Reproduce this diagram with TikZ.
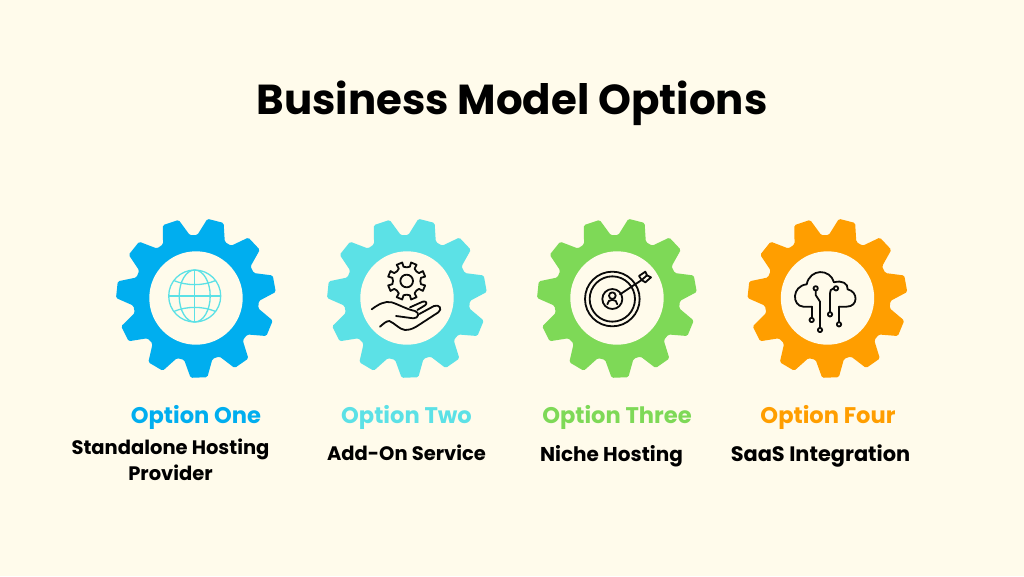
\documentclass[tikz,border=0pt]{standalone}
\usepackage{fontspec}
\setmainfont{Poppins}
\definecolor{bg}{HTML}{FFFBEB}
\definecolor{cblue}{HTML}{00AEEF}
\definecolor{ccyan}{HTML}{5CE1E6}
\definecolor{cgreen}{HTML}{7ED957}
\definecolor{corange}{HTML}{FF9E00}
\definecolor{ink}{HTML}{0A0A0A}
\tikzset{
  titletext/.style={font=\bfseries\fontsize{41.9}{48}\selectfont,text=black,anchor=base,inner sep=0pt},
  optiontext/.style={font=\bfseries\fontsize{22.6}{26}\selectfont,anchor=base,inner sep=0pt},
  desctext/.style={font=\bfseries\fontsize{19.5}{26}\selectfont,text=black,anchor=base,inner sep=0pt,align=center},
  widetext/.style={desctext,font=\bfseries\fontsize{#1}{26}\selectfont},
  iconline/.style={draw=ink,line width=1.8pt,line cap=round,line join=round},
  globeline/.style={draw=ccyan,line width=1.3pt},
}
\newcommand{\biggear}[3]{%
  \fill[#1,rounded corners=1.5pt] ([shift={(#2,#3)}]-62.8:63)
    \foreach \i in {0,...,10} {
      \pgfextra{\pgfmathsetmacro{\c}{-75.8-\i*32.727}}
      -- ([shift={(#2,#3)}]\c+13:63) -- ([shift={(#2,#3)}]\c+6:80) -- ([shift={(#2,#3)}]\c-6:80) -- ([shift={(#2,#3)}]\c-13:63)
    } -- cycle;
  \fill[bg] (#2,#3) circle[radius=46.7];
}
\begin{document}
\begin{tikzpicture}[x=1pt,y=-1pt]
\path[use as bounding box,fill=bg] (0,0) rectangle (1024,576);
\node[titletext] (title) at (512,114) {Business Model Options};

\biggear{cblue}{196}{298}
\biggear{ccyan}{407}{298}
\biggear{cgreen}{617}{298}
\biggear{corange}{827.5}{298}

% globe
\begin{scope}[shift={(194.7,296)}]
  \draw[globeline] (0,0) circle[radius=26];
  \draw[globeline] (0,0) ellipse[x radius=15.5,y radius=26];
  \draw[globeline] (0,-26) -- (0,26) (-26,0) -- (26,0);
  \draw[globeline] (-21,-15.5) .. controls (-8,-10) and (8,-10) .. (21,-15.5);
  \draw[globeline] (-21,15.5) .. controls (-8,10) and (8,10) .. (21,15.5);
\end{scope}

% hand and gear
\begin{scope}[shift={(360,250)},x=0.3333pt,y=-0.3333pt]
  \draw[iconline] (140,93) circle[radius=19];
  \draw[iconline] ([shift={(140,93)}]0.5:41)
    \foreach \i in {0,...,7} {
      \pgfextra{\pgfmathsetmacro{\c}{22.5+\i*45}}
      -- ([shift={(140,93)}]\c-22:41) -- ([shift={(140,93)}]\c-10:44) -- ([shift={(140,93)}]\c-9:57) -- ([shift={(140,93)}]\c+9:57) -- ([shift={(140,93)}]\c+10:44)
    } -- cycle;
  \draw[iconline] (35,178) .. controls (55,163) and (75,152) .. (95,157)
    .. controls (115,163) and (140,178) .. (165,183)
    .. controls (180,188) and (176,205) .. (160,205)
    -- (108,198);
  \draw[iconline] (150,172) -- (188,155) .. controls (198,152) and (204,160) .. (195,166) -- (172,180);
  \draw[iconline] (60,230) .. controls (70,222) and (78,213) .. (88,213)
    .. controls (105,220) and (118,238) .. (135,240)
    .. controls (155,240) and (165,232) .. (175,226)
    -- (235,187) .. controls (248,177) and (238,162) .. (222,168) -- (178,192);
\end{scope}

% target
\begin{scope}[shift={(570,250)},x=0.3333pt,y=-0.3333pt]
  \draw[iconline] (127,147) circle[radius=82];
  \draw[iconline] (127,147) circle[radius=68];
  \draw[iconline] (127,147) circle[radius=30];
  \draw[iconline] (127,137) circle[radius=10];
  \draw[iconline] (112,163) .. controls (112,145) and (142,145) .. (142,163);
  \draw[iconline] (150,133) -- (215,90);
  \draw[iconline] (215,90) -- (207,78) -- (226,65) -- (231,76) -- (243,82) -- (226,97) -- cycle;
  \draw[iconline] (215,90) -- (231,76);
\end{scope}

% cloud
\begin{scope}[shift={(780,250)},x=0.3333pt,y=-0.3333pt]
  \draw[iconline] (95,170) -- (70,170) .. controls (35,168) and (35,108) .. (80,103)
    .. controls (90,55) and (150,55) .. (162,97)
    .. controls (185,90) and (205,100) .. (203,118)
    .. controls (235,125) and (235,170) .. (200,170) -- (178,170);
  \draw[iconline] (95,170) -- (95,204);
  \draw[iconline] (95,210) circle[radius=6.5];
  \draw[iconline] (107,115) circle[radius=6.5];
  \draw[iconline] (107,122) -- (107,135) -- (120,155) -- (120,233);
  \draw[iconline] (120,240) circle[radius=6.5];
  \draw[iconline] (168,115) circle[radius=6.5];
  \draw[iconline] (161,115) .. controls (152,117) and (150,122) .. (150,130) -- (150,186);
  \draw[iconline] (150,193) circle[radius=6.5];
  \draw[iconline] (177,170) -- (177,216);
  \draw[iconline] (177,223) circle[radius=6.5];
\end{scope}

\node[optiontext,text=cblue] (o1) at (196,423) {Option One};
\node[optiontext,text=ccyan] (o2) at (406.5,423) {Option Two};
\node[optiontext,text=cgreen] (o3) at (617,423) {Option Three};
\node[optiontext,text=corange] (o4) at (828,423) {Option Four};
\node[desctext] (d1a) at (170.5,454) {Standalone Hosting};
\node[desctext] (d1b) at (170.5,480) {Provider};
\node[desctext] (d2) at (406.5,460) {Add-On Service};
\node[widetext=20] (d3) at (611.5,461) {Niche Hosting};
\node[widetext=20.9] (d4) at (820.5,461) {SaaS Integration};
\end{tikzpicture}
\end{document}
